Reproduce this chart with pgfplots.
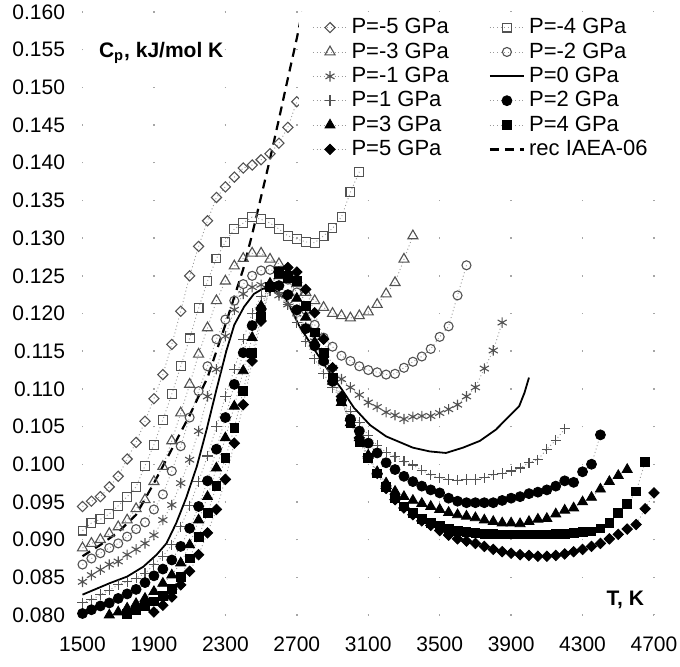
\documentclass[border=0pt]{standalone}
\usepackage{fontspec}
\setmainfont{Liberation Sans}
\usepackage{pgfplots}
\pgfplotsset{compat=1.18}

\pgfplotsset{
  ser/.style={draw=gray!80, line width=0.45pt, dash pattern=on 0.5pt off 1.3pt},
  om/.style={mark options={solid, draw=black!68, fill=white, line width=0.55pt}},
  omd/.style={mark options={solid, draw=black!68, fill=white, line width=0.55pt, rotate=45}},
  fm/.style={mark options={solid, draw=black, fill=black, line width=0.4pt}},
  fmd/.style={mark options={solid, draw=black, fill=black, line width=0.4pt, rotate=45}},
}

\begin{document}
\begin{tikzpicture}
\begin{axis}[
  name=ax,
  scale only axis, width=285.75pt, height=301.5pt,
  xmin=1500, xmax=4700, ymin=0.08, ymax=0.16,
  xtick={1500,1900,2300,2700,3100,3500,3900,4300,4700},
  ytick={0.080,0.085,0.090,0.095,0.100,0.105,0.110,0.115,0.120,0.125,0.130,0.135,0.140,0.145,0.150,0.155,0.160},
  axis line style={draw=none}, major tick length=0pt,
  xmajorgrids, ymajorgrids,
  x grid style={draw=gray!70, line width=0.7pt, dash pattern=on 0.7pt off 18.14375pt, dash phase=0.35pt},
  y grid style={draw=gray!70, line width=0.7pt, dash pattern=on 0.7pt off 35.01875pt, dash phase=0.35pt},
  ticklabel style={font=\fontsize{10.5}{12}\selectfont},
  yticklabel style={xshift=-5.2pt, /pgf/number format/.cd, fixed, fixed zerofill, precision=3},
  xticklabel style={yshift=-7.5pt, /pgf/number format/set thousands separator={}},
  /pgf/number format/assume math mode=true,
  clip=false,
  legend columns=2,
  legend cell align=left,
  legend style={at={(0.379,1.0)}, anchor=north west, draw=none, fill=white,
    font=\fontsize{11}{11}\selectfont, row sep=-1pt, inner xsep=6.5pt, inner ysep=1pt,
    /tikz/every even column/.append style={column sep=18pt}},
]
% P=-5
\addplot[ser, omd, mark=square, mark size=1.8pt] coordinates {
(1500,0.0944)(1550,0.0951)(1600,0.0957)(1650,0.0970)(1700,0.0984)(1750,0.1007)(1800,0.1029)
(1850,0.1057)(1900,0.1087)(1950,0.1119)(2000,0.1159)(2050,0.1203)(2100,0.1250)(2150,0.1289)
(2200,0.1323)(2250,0.1354)(2300,0.1368)(2350,0.1381)(2400,0.1393)(2450,0.1397)(2500,0.1404)
(2550,0.1412)(2600,0.1426)(2650,0.1447)(2700,0.1481)};
\addlegendentry{P=-5 GPa}
% P=-4
\addplot[ser, om, mark=square, mark size=2.2pt] coordinates {
(1500,0.0912)(1550,0.0922)(1600,0.0927)(1650,0.0934)(1700,0.0945)(1750,0.0957)(1800,0.0970)
(1850,0.0998)(1900,0.1026)(1950,0.1059)(2000,0.1093)(2050,0.1130)(2100,0.1167)(2150,0.1207)
(2200,0.1243)(2250,0.1273)(2300,0.1295)(2350,0.1312)(2400,0.1320)(2450,0.1328)(2500,0.1325)
(2550,0.1320)(2600,0.1312)(2650,0.1303)(2700,0.1299)(2750,0.1295)(2800,0.1294)(2850,0.1303)
(2900,0.1313)(2950,0.1328)(3000,0.1361)(3050,0.1388)};
\addlegendentry{P=-4 GPa}
% P=-3
\addplot[ser, om, mark=triangle, mark size=2.9pt] coordinates {
(1500,0.0889)(1550,0.0895)(1600,0.0900)(1650,0.0908)(1700,0.0917)(1750,0.0926)(1800,0.0941)
(1850,0.0953)(1900,0.0977)(1950,0.0997)(2000,0.1031)(2050,0.1068)(2100,0.1106)(2150,0.1146)
(2200,0.1181)(2250,0.1217)(2300,0.1243)(2350,0.1263)(2400,0.1273)(2450,0.1280)(2500,0.1280)
(2550,0.1272)(2600,0.1266)(2650,0.1255)(2700,0.1240)(2750,0.1228)(2800,0.1217)(2850,0.1208)
(2900,0.1200)(2950,0.1197)(3000,0.1194)(3050,0.1197)(3100,0.1202)(3150,0.1212)(3200,0.1226)
(3250,0.1241)(3300,0.1272)(3350,0.1303)};
\addlegendentry{P=-3 GPa}
% P=-2
\addplot[ser, om, mark=o, mark size=2.25pt] coordinates {
(1500,0.0867)(1550,0.0875)(1600,0.0882)(1650,0.0889)(1700,0.0895)(1750,0.0904)(1800,0.0914)
(1850,0.0923)(1900,0.0940)(1950,0.0960)(2000,0.0991)(2050,0.1024)(2100,0.1062)(2150,0.1097)
(2200,0.1130)(2250,0.1166)(2300,0.1192)(2350,0.1217)(2400,0.1239)(2450,0.1250)(2500,0.1257)
(2550,0.1258)(2600,0.1255)(2650,0.1245)(2700,0.1228)(2750,0.1205)(2800,0.1185)(2850,0.1168)
(2900,0.1156)(2950,0.1144)(3000,0.1137)(3050,0.1130)(3100,0.1125)(3150,0.1122)(3200,0.1119)
(3250,0.1120)(3300,0.1128)(3350,0.1136)(3400,0.1143)(3450,0.1153)(3500,0.1169)(3550,0.1183)
(3600,0.1224)(3650,0.1264)};
\addlegendentry{P=-2 GPa}
% P=-1
\addplot[ser, om, mark=asterisk, mark size=2.6pt] coordinates {
(1500,0.0844)(1550,0.0853)(1600,0.0860)(1650,0.0867)(1700,0.0871)(1750,0.0880)(1800,0.0887)
(1850,0.0895)(1900,0.0906)(1950,0.0926)(2000,0.0946)(2050,0.0975)(2100,0.1006)(2150,0.1044)
(2200,0.1090)(2250,0.1126)(2300,0.1170)(2350,0.1205)(2400,0.1226)(2450,0.1235)(2500,0.1238)
(2550,0.1232)(2600,0.1224)(2650,0.1212)(2700,0.1200)(2750,0.1182)(2800,0.1163)(2850,0.1145)
(2900,0.1128)(2950,0.1113)(3000,0.1102)(3050,0.1092)(3100,0.1082)(3150,0.1076)(3200,0.1069)
(3250,0.1065)(3300,0.1060)(3350,0.1063)(3400,0.1064)(3450,0.1064)(3500,0.1068)(3550,0.1073)
(3600,0.1079)(3650,0.1090)(3700,0.1102)(3750,0.1127)(3800,0.1151)(3850,0.1188)};
\addlegendentry{P=-1 GPa}
% P=0
\addplot[black, line width=0.9pt, no marks] coordinates {
(1500,0.0827)(1560,0.0833)(1650,0.0842)(1750,0.0851)(1840,0.0864)(1915,0.0880)(1970,0.0895)
(2025,0.0922)(2080,0.0955)(2140,0.0997)(2195,0.1046)(2250,0.1099)(2305,0.1150)(2350,0.1185)
(2405,0.1209)(2460,0.1226)(2510,0.1233)(2565,0.1233)(2640,0.1219)(2715,0.1183)(2810,0.1148)
(2900,0.1116)(2950,0.1100)(3020,0.1075)(3110,0.1052)(3200,0.1037)(3270,0.1030)(3350,0.1022)
(3445,0.1017)(3535,0.1015)(3630,0.1022)(3725,0.1031)(3815,0.1046)(3890,0.1064)(3945,0.1077)
(3975,0.1095)(4000,0.1115)};
\addlegendentry{P=0 GPa}
% P=1
\addplot[ser, om, mark=+, mark size=2.6pt] coordinates {
(1500,0.0816)(1550,0.0820)(1600,0.0827)(1650,0.0833)(1700,0.0840)(1750,0.0844)(1800,0.0849)
(1850,0.0855)(1900,0.0867)(1950,0.0878)(2000,0.0893)(2050,0.0917)(2100,0.0945)(2150,0.0977)
(2200,0.1011)(2250,0.1050)(2300,0.1090)(2350,0.1126)(2400,0.1166)(2450,0.1200)(2500,0.1223)
(2550,0.1230)(2600,0.1228)(2650,0.1212)(2700,0.1188)(2750,0.1163)(2800,0.1140)(2850,0.1120)
(2900,0.1102)(2950,0.1086)(3000,0.1070)(3050,0.1056)(3100,0.1038)(3150,0.1025)(3200,0.1016)
(3250,0.1010)(3300,0.1004)(3350,0.0999)(3400,0.0992)(3450,0.0986)(3500,0.0982)(3550,0.0980)
(3600,0.0979)(3650,0.0980)(3700,0.0980)(3750,0.0982)(3800,0.0986)(3850,0.0988)(3900,0.0991)
(3950,0.0995)(4000,0.1002)(4050,0.1006)(4100,0.1020)(4150,0.1032)(4200,0.1047)};
\addlegendentry{P=1 GPa}
% P=2
\addplot[ser, fm, mark=*, mark size=2.5pt] coordinates {
(1500,0.0802)(1550,0.0807)(1600,0.0812)(1650,0.0816)(1700,0.0822)(1750,0.0828)(1800,0.0834)
(1850,0.0843)(1900,0.0852)(1950,0.0861)(2000,0.0873)(2050,0.0891)(2100,0.0915)(2150,0.0944)
(2200,0.0978)(2250,0.1020)(2300,0.1062)(2350,0.1106)(2400,0.1148)(2450,0.1184)(2500,0.1206)
(2550,0.1235)(2600,0.1237)(2650,0.1225)(2700,0.1205)(2750,0.1180)(2800,0.1157)(2850,0.1137)
(2900,0.1110)(2950,0.1085)(3000,0.1060)(3050,0.1044)(3100,0.1028)(3150,0.1015)(3200,0.1002)
(3250,0.0993)(3300,0.0984)(3350,0.0977)(3400,0.0971)(3450,0.0966)(3500,0.0962)(3550,0.0955)
(3600,0.0951)(3650,0.0949)(3700,0.0949)(3750,0.0949)(3800,0.0949)(3850,0.0952)(3900,0.0955)
(3950,0.0957)(4000,0.0961)(4050,0.0963)(4100,0.0966)(4150,0.0971)(4200,0.0978)(4250,0.0976)
(4300,0.0990)(4350,0.1000)(4400,0.1039)};
\addlegendentry{P=2 GPa}
% P=3
\addplot[ser, fm, mark=triangle*, mark size=2.9pt] coordinates {
(1650,0.0800)(1700,0.0804)(1750,0.0809)(1800,0.0815)(1850,0.0822)(1900,0.0831)(1950,0.0842)
(2000,0.0853)(2050,0.0869)(2100,0.0893)(2150,0.0926)(2200,0.0957)(2250,0.0995)(2300,0.1035)
(2350,0.1077)(2400,0.1124)(2450,0.1168)(2500,0.1210)(2550,0.1240)(2600,0.1250)(2650,0.1245)
(2700,0.1220)(2750,0.1195)(2800,0.1162)(2850,0.1138)(2900,0.1110)(2950,0.1082)(3000,0.1055)
(3050,0.1035)(3100,0.1012)(3150,0.0990)(3200,0.0975)(3250,0.0964)(3300,0.0957)(3350,0.0952)
(3400,0.0948)(3450,0.0944)(3500,0.0940)(3550,0.0936)(3600,0.0933)(3650,0.0931)(3700,0.0929)
(3750,0.0926)(3800,0.0924)(3850,0.0922)(3900,0.0922)(3950,0.0921)(4000,0.0924)(4050,0.0927)
(4100,0.0928)(4150,0.0934)(4200,0.0939)(4250,0.0942)(4300,0.0950)(4350,0.0956)(4400,0.0967)
(4450,0.0977)(4500,0.0985)(4550,0.0993)};
\addlegendentry{P=3 GPa}
% P=4
\addplot[ser, fm, mark=square*, mark size=2.2pt] coordinates {
(1750,0.0801)(1800,0.0806)(1850,0.0812)(1900,0.0818)(1950,0.0825)(2000,0.0835)(2050,0.0851)
(2100,0.0875)(2150,0.0904)(2200,0.0935)(2250,0.0971)(2300,0.1008)(2350,0.1048)(2400,0.1097)
(2450,0.1148)(2500,0.1195)(2550,0.1235)(2600,0.1255)(2650,0.1250)(2700,0.1243)(2750,0.1210)
(2800,0.1175)(2850,0.1148)(2900,0.1115)(2950,0.1085)(3000,0.1055)(3050,0.1030)(3100,0.1008)
(3150,0.0988)(3200,0.0970)(3250,0.0955)(3300,0.0944)(3350,0.0935)(3400,0.0928)(3450,0.0922)
(3500,0.0918)(3550,0.0914)(3600,0.0912)(3650,0.0910)(3700,0.0909)(3750,0.0908)(3800,0.0908)
(3850,0.0907)(3900,0.0907)(3950,0.0907)(4000,0.0907)(4050,0.0907)(4100,0.0907)(4150,0.0908)
(4200,0.0908)(4250,0.0909)(4300,0.0910)(4350,0.0911)(4400,0.0915)(4450,0.0922)(4500,0.0935)
(4550,0.0947)(4600,0.0964)(4650,0.1003)};
\addlegendentry{P=4 GPa}
% P=5
\addplot[ser, fmd, mark=square*, mark size=1.85pt] coordinates {
(1900,0.0804)(1950,0.0813)(2000,0.0824)(2050,0.0840)(2100,0.0858)(2150,0.0880)(2200,0.0909)
(2250,0.0940)(2300,0.0980)(2350,0.1028)(2400,0.1079)(2450,0.1137)(2500,0.1190)(2550,0.1235)
(2600,0.1255)(2650,0.1261)(2700,0.1255)(2750,0.1232)(2800,0.1201)(2850,0.1166)(2900,0.1128)
(2950,0.1090)(3000,0.1058)(3050,0.1035)(3100,0.1010)(3150,0.0988)(3200,0.0968)(3250,0.0953)
(3300,0.0942)(3350,0.0933)(3400,0.0925)(3450,0.0919)(3500,0.0912)(3550,0.0906)(3600,0.0901)
(3650,0.0898)(3700,0.0895)(3750,0.0891)(3800,0.0887)(3850,0.0884)(3900,0.0882)(3950,0.0880)
(4000,0.0879)(4050,0.0878)(4100,0.0878)(4150,0.0879)(4200,0.0881)(4250,0.0884)(4300,0.0887)
(4350,0.0891)(4400,0.0895)(4450,0.0901)(4500,0.0907)(4550,0.0914)(4600,0.0920)(4650,0.0941)
(4700,0.0962)};
\addlegendentry{P=5 GPa}
% rec IAEA-06
\addplot[black, line width=1.1pt, dash pattern=on 4.5pt off 3pt, no marks] coordinates {
(1500,0.0878)(1600,0.0893)(1700,0.0910)(1800,0.0933)(1900,0.0975)(2000,0.1020)(2100,0.1065)
(2200,0.1115)(2300,0.1185)(2400,0.1259)(2450,0.1305)(2500,0.1355)(2550,0.1405)(2600,0.1458)
(2650,0.1512)(2700,0.1565)(2730,0.1600)};
\addlegendentry{rec IAEA-06}

\node[anchor=base west, font=\fontsize{10.5}{12}\selectfont\bfseries] at (axis cs:1553,0.1540) {C\textsubscript{p}, kJ/mol K};
\node[anchor=base west, font=\fontsize{10.5}{12}\selectfont\bfseries] at (axis cs:4395,0.0813) {T, K};
\end{axis}
\pgfresetboundingbox
\path (ax.south west) ++(-41.25pt,-25.5pt) rectangle ++(340pt,333pt);
\end{tikzpicture}
\end{document}
